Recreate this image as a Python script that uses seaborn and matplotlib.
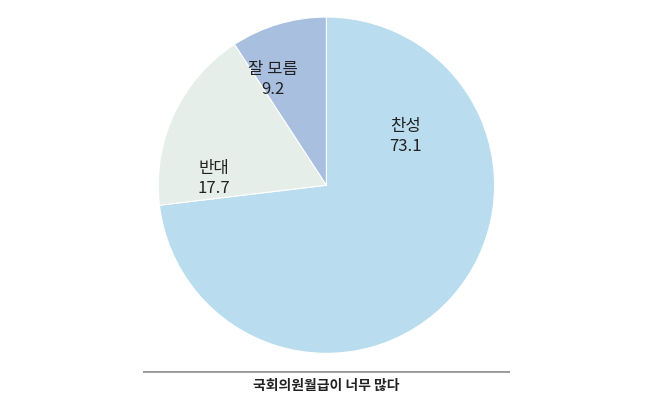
import matplotlib
matplotlib.use("Agg")
import matplotlib.pyplot as plt
import seaborn as sns

sns.set_theme(style="white", font="Noto Sans CJK KR")

categories = ["찬성", "반대", "잘 모름"]
values = [73.1, 17.7, 9.2]
colors = ["#b9ddee", "#e6eee9", "#a9bfe0"]
title = "국회의원월급이 너무 많다"

fig = plt.figure(figsize=(6.47, 4.12), dpi=100)
ax = fig.add_axes([0.242, 0.138, 0.525, 0.825])
ax.pie(values, colors=colors, startangle=90, counterclock=False,
       wedgeprops=dict(edgecolor="white", linewidth=0.8))
ax.set_aspect("equal")
ax.set_xlim(-1.01, 1.01)
ax.set_ylim(-1.01, 1.01)

# label positions (data units, pie radius = 1)
label_pos = [(0.47, 0.29), (-0.67, 0.04), (-0.32, 0.63)]
for (x, y), c, v in zip(label_pos, categories, values):
    ax.text(x, y, f"{c}\n{v}", ha="center", va="center", fontsize=12,
            color="#222222", linespacing=1.25)

line_ax = fig.add_axes([0.221, 0.08, 0.567, 0.02])
line_ax.axhline(1, color="#999999", lw=2)
line_ax.set_ylim(0, 1)
line_ax.axis("off")
fig.text(0.505, 0.063, title, ha="center", va="center", fontsize=10,
         fontweight="bold", color="#222222")

fig.savefig("out.png", dpi=100)
